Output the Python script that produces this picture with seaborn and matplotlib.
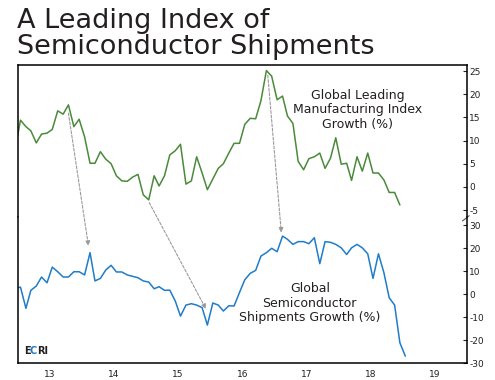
import numpy as np
import pandas as pd
import matplotlib
matplotlib.use("Agg")
import matplotlib.pyplot as plt
import matplotlib.dates as mdates
from matplotlib.font_manager import FontProperties
from matplotlib.textpath import TextToPath
import seaborn as sns

# ---------------------------------------------------------------
# Datos (crecimiento % interanual, mensual)
# ---------------------------------------------------------------
meses_lider = pd.date_range("2012-12-01", "2018-12-01", freq="MS") + pd.Timedelta(days=14)
meses_semi = pd.date_range("2012-12-01", "2019-01-01", freq="MS") + pd.Timedelta(days=14)

indice_lider = [
    8.0,
    14.4, 13.0, 12.1, 9.5, 11.4, 11.6, 12.4, 16.4, 15.7, 17.7, 13.0, 14.6,
    10.8, 5.1, 5.1, 7.6, 6.0, 5.0, 2.4, 1.3, 1.2, 2.1, 2.7, -1.7,
    -2.8, 2.4, 0.2, 2.4, 6.9, 7.8, 9.2, 0.6, 1.3, 6.5, 3.0, -0.6,
    1.7, 4.0, 5.0, 7.3, 9.4, 9.4, 13.5, 14.8, 14.7, 18.6, 25.1, 23.9,
    18.8, 19.6, 15.3, 13.7, 5.5, 3.7, 6.1, 6.5, 7.3, 4.0, 6.2, 10.6,
    4.9, 5.1, 1.4, 6.5, 3.4, 7.3, 3.0, 3.0, 1.5, -1.2, -1.2, -3.9,
]

envios_semi = [
    2.5,
    3.0, -6.2, 1.6, 3.5, 7.4, 4.9, 11.7, 9.7, 7.4, 7.4, 9.7, 9.7,
    8.3, 18.0, 5.7, 6.8, 10.4, 12.5, 9.6, 9.6, 8.3, 7.7, 7.1, 5.7,
    5.2, 2.3, 3.2, 1.6, 1.7, -3.0, -9.6, -4.8, -4.2, -4.8, -5.9, -13.5,
    -3.9, -4.8, -7.4, -5.1, -5.2, 0.7, 6.2, 9.0, 10.3, 16.5, 18.0, 19.9,
    18.4, 25.2, 23.8, 21.6, 22.8, 22.8, 21.9, 24.5, 13.2, 22.8, 22.5, 21.6,
    20.1, 17.2, 20.1, 21.6, 20.1, 17.5, 6.8, 17.5, 9.3, -1.6, -4.8, -21.2,
    -27.0,
]

ticks_lider = [25, 20, 15, 10, 5, 0, -5]
ticks_semi = [30, 20, 10, 0, -10, -20, -30]

df_lider = pd.DataFrame({"fecha": meses_lider, "valor": indice_lider})
df_semi = pd.DataFrame({"fecha": meses_semi, "valor": envios_semi})

# ---------------------------------------------------------------
# Estilo
# ---------------------------------------------------------------
sns.set_style("white")
plt.rcParams["font.family"] = ["DejaVu Sans"]
plt.rcParams["axes.unicode_minus"] = False

verde = "#4a8a3a"
azul = "#1f7cc8"
texto = "#231f20"
gris = "#9a9a9a"

fig = plt.figure(figsize=(4.95, 3.8), dpi=100)
ax_top = fig.add_axes([0.0364, 0.4289, 0.907, 0.4])
ax_bot = fig.add_axes([0.0364, 0.0447, 0.907, 0.3842], sharex=ax_top)

sns.lineplot(data=df_lider, x="fecha", y="valor", ax=ax_top, color=verde, linewidth=1.1)
sns.lineplot(data=df_semi, x="fecha", y="valor", ax=ax_bot, color=azul, linewidth=1.1)

ax_top.set_ylim(-6.5, 26.3)
ax_bot.set_ylim(-30, 33.5)
ax_bot.set_xlim(pd.Timestamp("2013-01-01"), pd.Timestamp("2020-01-01"))

for ax in (ax_top, ax_bot):
    ax.set_xlabel("")
    ax.set_ylabel("")
    for s in ax.spines.values():
        s.set_color("black")
        s.set_linewidth(1.1)
    ax.tick_params(axis="y", left=False, right=True, labelleft=False, labelright=True,
                   direction="in", length=3, width=0.8, pad=1.5, labelsize=6.5, labelcolor=texto)

ax_top.spines["bottom"].set_visible(False)
ax_bot.spines["top"].set_visible(False)
ax_top.set_yticks(ticks_lider)
ax_bot.set_yticks(ticks_semi)
ax_top.tick_params(axis="x", bottom=False, labelbottom=False)

ax_bot.xaxis.set_major_locator(mdates.YearLocator())
ax_bot.xaxis.set_major_formatter(plt.NullFormatter())
ax_bot.xaxis.set_minor_locator(mdates.YearLocator(month=7))
ax_bot.xaxis.set_minor_formatter(mdates.DateFormatter("%y"))
ax_bot.tick_params(axis="x", which="major", direction="in", length=3, width=0.8)
ax_bot.tick_params(axis="x", which="minor", length=0, pad=5, labelsize=6.5, labelcolor=texto)

# Marca de corte del eje derecho
ax_bot.plot([0.990, 1.005], [0.973, 1.009], transform=ax_bot.transAxes,
            color="#555555", lw=0.8, clip_on=False)

# Flechas de adelanto
flechas = [
    (("2013-10-15", 15.9), ("2014-02-06", 20.9)),
    (("2015-01-18", -3.4), ("2015-12-07", -6.5)),
    (("2016-11-23", 24.1), ("2017-02-08", 26.7)),
]
for (f0, v0), (f1, v1) in flechas:
    ax_bot.annotate("", xy=(mdates.date2num(pd.Timestamp(f1)), v1),
                    xytext=(mdates.date2num(pd.Timestamp(f0)), v0),
                    xycoords="data", textcoords=ax_top.transData, annotation_clip=False,
                    arrowprops=dict(arrowstyle="-|>", color=gris, lw=0.8,
                                    linestyle=(0, (2.5, 1.5)), mutation_scale=7,
                                    shrinkA=0, shrinkB=0))

# Etiquetas
ax_top.text(mdates.date2num(pd.Timestamp("2018-04-20")), 16.6,
            "Global Leading\nManufacturing Index\nGrowth (%)",
            ha="center", va="center", fontsize=9, color=texto, linespacing=1.15)
ax_bot.text(mdates.date2num(pd.Timestamp("2017-07-20")), -4.0,
            "Global\nSemiconductor\nShipments Growth (%)",
            ha="center", va="center", fontsize=9, color=texto, linespacing=1.15)

# Logo ECRI (la "C" en azul): cada trozo se coloca según el avance del texto previo
prop = FontProperties(family="DejaVu Sans", weight="bold", size=7)
ttp = TextToPath()
def ancho_px(s):
    return ttp.get_text_width_height_descent(s, prop, ismath=False)[0] * 100 / 72

x0 = 24
for previo, letras, col, ajuste in [("", "E", texto, 0), ("E", "C", azul, -1.2), ("EC", "RI", texto, -0.8)]:
    x = x0 + (ancho_px(previo + "X") - ancho_px("X") if previo else 0) + ajuste
    fig.text(x / 495, (380 - 354) / 380, letras, fontproperties=prop,
             color=col, va="baseline", ha="left")

# Título
fig.text(0.034, 0.978, "A Leading Index of\nSemiconductor Shipments", ha="left", va="top",
         fontsize=19.5, color=texto, linespacing=0.98)

fig.savefig("out.png", dpi=100)
